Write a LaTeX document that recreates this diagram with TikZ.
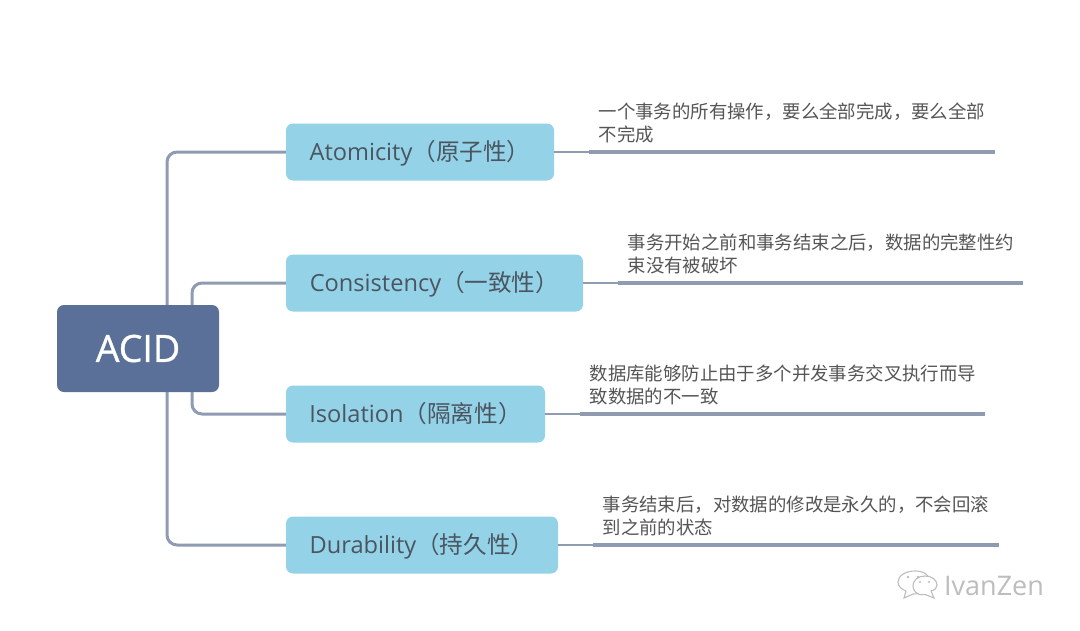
\documentclass[tikz,border=0pt]{standalone}
\usepackage{fontspec}
\setmainfont{Open Sans}
\newfontfamily\cjk{Noto Sans CJK SC}
\newfontfamily\rootfont[FakeBold=0.8]{Open Sans}
\definecolor{rootfill}{HTML}{5A7099}
\definecolor{boxfill}{HTML}{94D2E8}
\definecolor{linkcol}{HTML}{8E9BB0}
\definecolor{txt}{HTML}{4A5560}
\definecolor{leaftxt}{HTML}{555555}
\definecolor{wm}{HTML}{BDBDBD}
\tikzset{
 x=1pt,y=-1pt,
 rootbox/.style={fill=rootfill,rounded corners=7pt,text=white,font=\rootfont\fontsize{37.5}{40}\selectfont,anchor=center,inner sep=0pt},
 topicbox/.style={fill=boxfill,rounded corners=7pt,text=txt,font=\fontsize{23.6}{27}\selectfont,anchor=center,inner sep=0pt,minimum height=57pt,text height=23pt,text depth=6pt},
 leaftext/.style={anchor=north west,inner sep=0pt,text=leaftxt,align=left,font=\cjk\fontsize{18.4}{23}\selectfont},
 link/.style={draw=linkcol,line width=3pt,rounded corners=10pt},
 thinlink/.style={draw=linkcol,line width=2.6pt},
 under/.style={draw=linkcol,line width=3.2pt},
 wmline/.style={draw=wm,line width=1.1pt,fill=white},
}
\begin{document}
\begin{tikzpicture}
\useasboundingbox (0,0) rectangle (1080,630);
\draw[link] (167,320) -- (167,152) -- (286,152);
\draw[link] (167,380) -- (167,545) -- (286,545);
\draw[link] (192,320) -- (192,283) -- (286,283);
\draw[link] (192,380) -- (192,414) -- (286,414);
\node[rootbox,minimum width=162pt,minimum height=87pt] (acid) at (138,348.5) {ACID};
\node[topicbox,minimum width=268pt] (a) at (420,152) {Atomicity{\cjk（原子性）}};
\node[topicbox,minimum width=297pt] (c) at (434.5,283) {Consistency{\cjk（一致性）}};
\node[topicbox,minimum width=259pt] (i) at (415.5,414) {Isolation{\cjk（隔离性）}};
\node[topicbox,minimum width=272pt] (d) at (422,545) {Durability{\cjk（持久性）}};
\node[leaftext] (ta) at (598.5,102.5) {一个事务的所有操作，要么全部完成，要么全部\\不完成};
\node[leaftext] (tc) at (627.5,233.5) {事务开始之前和事务结束之后，数据的完整性约\\束没有被破坏};
\node[leaftext] (ti) at (589.5,364.5) {数据库能够防止由于多个并发事务交叉执行而导\\致数据的不一致};
\node[leaftext] (td) at (602.5,495.5) {事务结束后，对数据的修改是永久的，不会回滚\\到之前的状态};
\coordinate (ea) at (995,152);
\coordinate (ec) at (1023,283);
\coordinate (ei) at (985,414);
\coordinate (ed) at (999,545);
\draw[thinlink] (a.east) -- (ea);
\draw[thinlink] (c.east) -- (ec);
\draw[thinlink] (i.east) -- (ei);
\draw[thinlink] (d.east) -- (ed);
\draw[under] (ta.west |- ea) ++(-10,0) -- (ea);
\draw[under] (tc.west |- ec) ++(-10,0) -- (ec);
\draw[under] (ti.west |- ei) ++(-10,0) -- (ei);
\draw[under] (td.west |- ed) ++(-10,0) -- (ed);
% watermark
\draw[wmline] (906,591) -- (904,598) -- (913,594) .. controls (926,594) and (930,588) .. (930,582) .. controls (930,575) and (924,571) .. (915,571) .. controls (905,571) and (898,576) .. (898,582) .. controls (898,586) and (901,589) .. (906,591) -- cycle;
\draw[wmline] (931,591) -- (934,598) -- (925,594.5) .. controls (916,596) and (913,590) .. (913,586) .. controls (913,580) and (918,576) .. (925,576) .. controls (932,576) and (937,580) .. (937,585) .. controls (937,588) and (935,590) .. (931,591) -- cycle;
\fill[wm] (908,577) circle (1.3pt) (918,577) circle (1.3pt) (920,582) circle (1.1pt) (929,582) circle (1.1pt);
\node[inner sep=0pt,anchor=center,text=wm,font=\fontsize{27}{30}\selectfont] (wmark) at (994,586) {IvanZen};
\end{tikzpicture}
\end{document}
